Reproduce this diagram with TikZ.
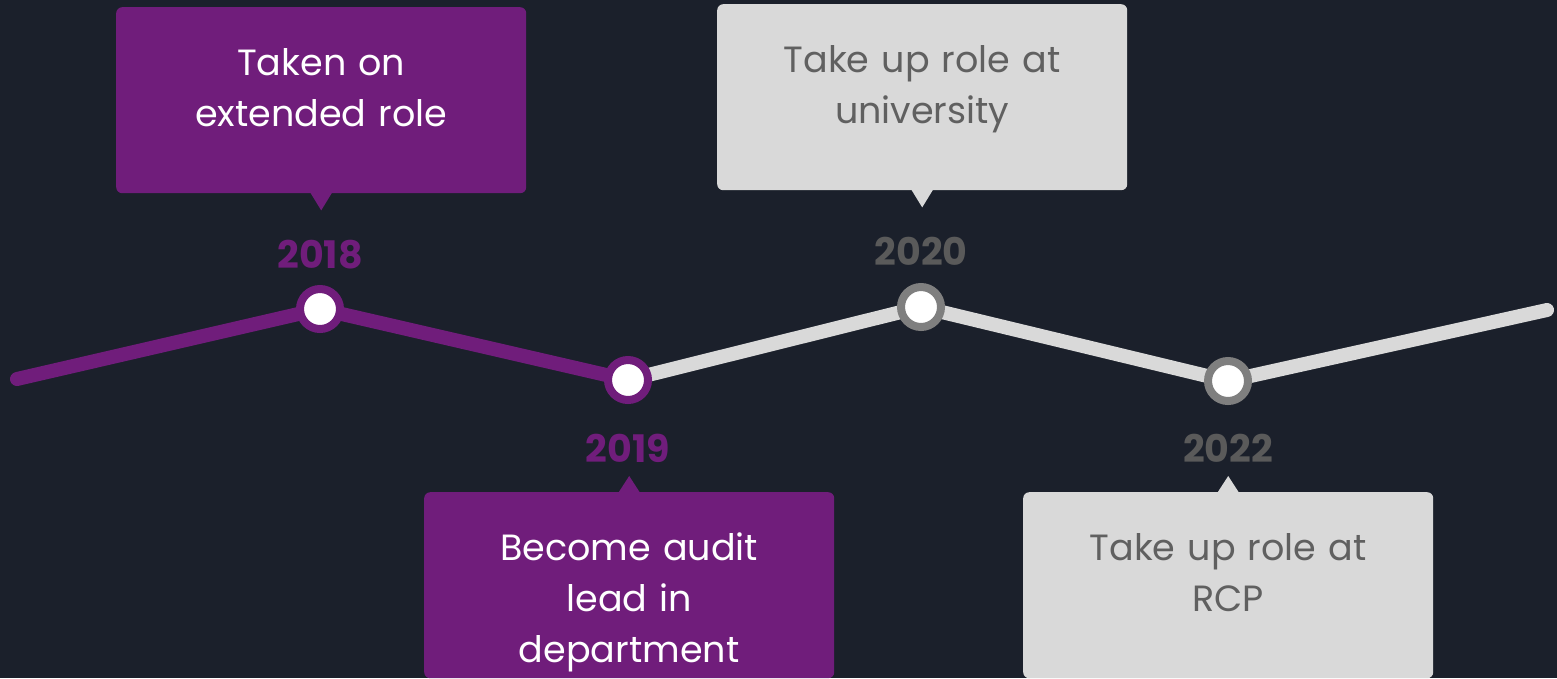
\documentclass[tikz,border=0pt]{standalone}
\usepackage{fontspec}
\setmainfont{Poppins}
\usetikzlibrary{calc}

\definecolor{bgdark}{HTML}{1B202B}
\definecolor{plum}{HTML}{701D7B}
\definecolor{lightgrey}{HTML}{D9D9D9}
\definecolor{ringgrey}{HTML}{7F7F7F}
\definecolor{yeargrey}{HTML}{5A5A5A}
\definecolor{boxtext}{HTML}{606060}

\begin{document}
\begin{tikzpicture}[x=1pt,y=-1pt,
  card/.style={rounded corners=6pt, minimum width=410pt, minimum height=186pt,
    inner sep=0pt, anchor=north west},
  cardtext/.style={anchor=base, text width=400pt, align=center, inner sep=0pt,
    font=\fontsize{36.5}{51}\selectfont},
  yearlabel/.style={anchor=base, inner sep=0pt, font=\fontsize{38}{44}\selectfont\bfseries},
  track/.style={line width=14pt, line cap=round, line join=round},
  dot/.style={circle, minimum size=40pt, inner sep=0pt, line width=8pt, fill=white},
]
% background and frame
\fill[bgdark] (0,0) rectangle (1557,678);
\useasboundingbox (0,0) rectangle (1557,678);
\clip (0,0) rectangle (1557,678);

% points along the zigzag timeline
\coordinate (start) at (17,379);
\coordinate (c18) at (320,309);
\coordinate (c19) at (628,380);
\coordinate (c20) at (921,307);
\coordinate (c22) at (1228,381);
\coordinate (finish) at (1547,310);

% timeline: completed part in plum, the rest in grey
\draw[track, plum] (start) -- (c18) -- (c19);
\draw[track, lightgrey] (c19) -- (c20) -- (c22) -- (finish);

% milestone markers
\node[dot, draw=plum] (d18) at (c18) {};
\node[dot, draw=plum] (d19) at (c19) {};
\node[dot, draw=ringgrey] (d20) at (c20) {};
\node[dot, draw=ringgrey] (d22) at (c22) {};

% years
\node[yearlabel, text=plum] (y18) at (320,268) {2018};
\node[yearlabel, text=plum] (y19) at (628,462) {2019};
\node[yearlabel, text=yeargrey] (y20) at (921,265) {2020};
\node[yearlabel, text=yeargrey] (y22) at (1228,462) {2022};

% callout cards above the line
\node[card, fill=plum] (b18) at (116,7) {};
\fill[plum] ($(b18.south)+(-11,-1)$) -- ($(b18.south)+(11,-1)$) -- ($(b18.south)+(0,17)$) -- cycle;
\node[cardtext, text=white] (t18) at ($(b18.north)+(0,68)$) {Taken on\\extended role};

\node[card, fill=lightgrey] (b20) at (717,4) {};
\fill[lightgrey] ($(b20.south)+(-11,-1)$) -- ($(b20.south)+(11,-1)$) -- ($(b20.south)+(0,17)$) -- cycle;
\node[cardtext, text=boxtext] (t20) at ($(b20.north)+(0,68)$) {Take up role at\\university};

% callout cards below the line
\node[card, fill=plum] (b19) at (424,492) {};
\fill[plum] ($(b19.north)+(-11,1)$) -- ($(b19.north)+(11,1)$) -- ($(b19.north)+(0,-16)$) -- cycle;
\node[cardtext, text=white] (t19) at ($(b19.north)+(0,68)$) {Become audit\\lead in\\department};

\node[card, fill=lightgrey] (b22) at (1023,492) {};
\fill[lightgrey] ($(b22.north)+(-11,1)$) -- ($(b22.north)+(11,1)$) -- ($(b22.north)+(0,-16)$) -- cycle;
\node[cardtext, text=boxtext] (t22) at ($(b22.north)+(0,68)$) {Take up role at\\RCP};
\end{tikzpicture}
\end{document}
